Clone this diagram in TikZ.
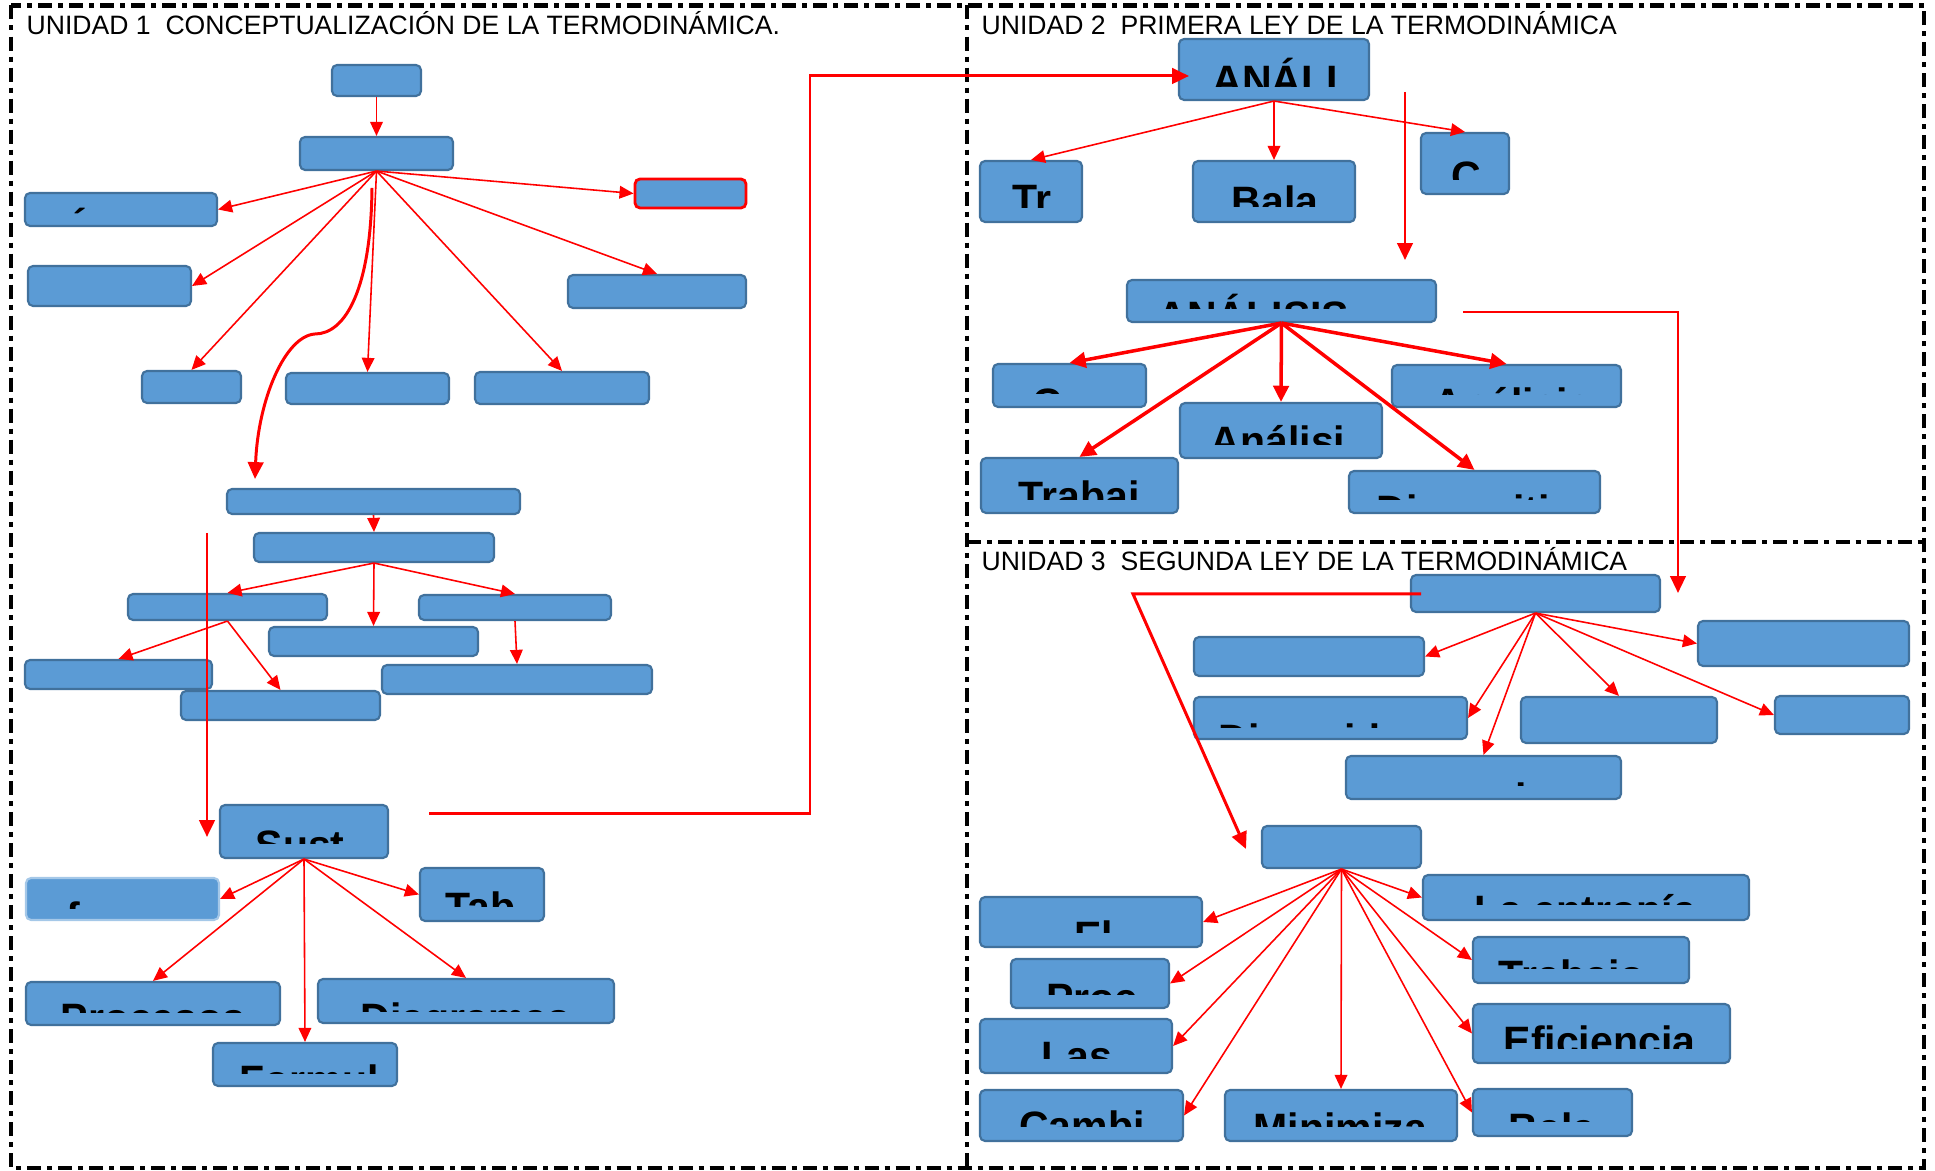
\documentclass[tikz,border=0pt]{standalone}
\usepackage{fontspec}
\setmainfont{Liberation Sans}
\usetikzlibrary{fit}
\usetikzlibrary{arrows.meta}

\definecolor{boxfill}{RGB}{91,155,213}
\definecolor{boxline}{RGB}{65,113,156}

\tikzset{
  box/.style={draw=boxline,fill=boxfill,line width=0.6pt,rounded corners=0.05cm,inner sep=0pt},
  redbox/.style={box,draw=red,line width=0.8pt},
  palebox/.style={box,draw=boxfill!55!white},
  link/.style={draw=red,line width=0.45pt,-{Triangle[length=4pt,width=3.6pt]}},
  boldlink/.style={draw=red,line width=1pt,-{Triangle[length=4.6pt,width=4.4pt]}},
  route/.style={draw=red,line width=0.85pt},
  routeend/.style={-{Triangle[length=4.8pt,width=4.4pt]}},
  frame/.style={line width=1.4pt,dash pattern=on 0.14cm off 0.06cm on 0.05cm off 0.06cm},
  unit/.style={anchor=base west,inner sep=0pt,font=\fontsize{7.56}{9}\selectfont},
  cuttext/.style={anchor=base west,inner sep=0pt,font=\bfseries\fontsize{11.67}{14}\selectfont}
}

\newcommand{\cutlabel}[5]{%
  \begin{scope}
    \clip (#2-20,#3-60) rectangle (#2+300,#4);
    \node[cuttext] (#1) at (#2,#3) {#5};
  \end{scope}}

\begin{document}
\begin{tikzpicture}[x=0.01cm,y=-0.01cm]
\useasboundingbox (0,0) rectangle (1935,1171);

\draw[frame] (11,5.5) rectangle (1924,1168);
\draw[frame] (967,5.5) -- (967,1168);
\draw[frame] (967,542) -- (1924,542);

\node[unit] (head1) at (26,34.5) {UNIDAD 1~ CONCEPTUALIZACIÓN DE LA TERMODINÁMICA.};
\node[unit] (head2) at (981,34.5) {UNIDAD 2~ PRIMERA LEY DE LA TERMODINÁMICA};
\node[unit] (head3) at (981,571) {UNIDAD 3~ SEGUNDA LEY DE LA TERMODINÁMICA};

% unidad 1
\node[box,fit={(332,65)(421,96)}] (u1a) {};
\node[box,fit={(300,137)(453,170)}] (u1b) {};
\node[box,fit={(25,193)(217,226)}] (u1c) {};
\node[redbox,fit={(635,179)(746,208)}] (u1d) {};
\node[box,fit={(28,266)(191,306)}] (u1e) {};
\node[box,fit={(568,275)(746,308)}] (u1f) {};
\node[box,fit={(142,371)(241,403)}] (u1g) {};
\node[box,fit={(286,373)(449,404)}] (u1h) {};
\node[box,fit={(475,372)(649,404)}] (u1i) {};
\node[box,fit={(227,489)(520,514)}] (u1j) {};
\node[box,fit={(254,533)(494,562)}] (u1k) {};
\node[box,fit={(128,594)(327,620)}] (u1l) {};
\node[box,fit={(419,595)(611,620)}] (u1m) {};
\node[box,fit={(269,627)(478,656)}] (u1n) {};
\node[box,fit={(25,660)(212,689)}] (u1o) {};
\node[box,fit={(181,691)(380,720)}] (u1p) {};
\node[box,fit={(382,665)(652,694)}] (u1q) {};
\node[box,fit={(220,805)(388,858)}] (u1s) {};
\node[palebox,fit={(26,878)(219,920)}] (u1r) {};
\node[box,fit={(420,868)(544,921)}] (u1t) {};
\node[box,fit={(26,982)(280,1025)}] (u1u) {};
\node[box,fit={(318,979)(614,1023)}] (u1v) {};
\node[box,fit={(213,1043)(397,1086)}] (u1w) {};

% unidad 2
\node[box,fit={(1179,39)(1369,100)}] (u2a) {};
\node[box,fit={(980,161)(1082,222)}] (u2b) {};
\node[box,fit={(1193,161)(1355,222)}] (u2c) {};
\node[box,fit={(1421,133)(1509,194)}] (u2d) {};
\node[box,fit={(1127,280)(1436,322)}] (u2e) {};
\node[box,fit={(993,364)(1146,407)}] (u2f) {};
\node[box,fit={(1392,365)(1621,407)}] (u2g) {};
\node[box,fit={(1180,403)(1382,458)}] (u2h) {};
\node[box,fit={(981,458)(1178,513)}] (u2i) {};
\node[box,fit={(1349,471)(1600,513)}] (u2j) {};

% unidad 3
\node[box,fit={(1411,575)(1660,612)}] (u3a) {};
\node[box,fit={(1194,637)(1424,676)}] (u3b) {};
\node[box,fit={(1698,621)(1909,666)}] (u3c) {};
\node[box,fit={(1194,697)(1467,739)}] (u3d) {};
\node[box,fit={(1521,697)(1717,743)}] (u3e) {};
\node[box,fit={(1775,696)(1909,734)}] (u3f) {};
\node[box,fit={(1346,756)(1621,799)}] (u3g) {};
\node[box,fit={(1262,826)(1421,868)}] (u3h) {};
\node[box,fit={(1423,875)(1749,920)}] (u3i) {};
\node[box,fit={(980,897)(1202,947)}] (u3j) {};
\node[box,fit={(1473,937)(1689,983)}] (u3k) {};
\node[box,fit={(1011,959)(1169,1008)}] (u3l) {};
\node[box,fit={(1473,1004)(1730,1063)}] (u3m) {};
\node[box,fit={(980,1019)(1172,1073)}] (u3n) {};
\node[box,fit={(980,1090)(1183,1141)}] (u3o) {};
\node[box,fit={(1225,1090)(1457,1141)}] (u3p) {};
\node[box,fit={(1473,1089)(1632,1136)}] (u3q) {};

\draw[link] (u1a.south) -- (u1b.north);
\draw[link] (u1b.south) -- (u1c.east);
\draw[link] (u1b.south) -- (u1d.west);
\draw[link] (u1b.south) -- (u1e.east);
\draw[link] (u1b.south) -- (u1f.north);
\draw[link] (u1b.south) -- (u1g.north);
\draw[link] (u1b.south) -- (u1h.north);
\draw[link] (u1b.south) -- (u1i.north);
\draw[link] (u1j.south) -- (u1k.north);
\draw[link] (u1k.south) -- (u1l.north);
\draw[link] (u1k.south) -- (u1n.north);
\draw[link] (u1k.south) -- (u1m.north);
\draw[link] (u1l.south) -- (u1o.north);
\draw[link] (u1l.south) -- (u1p.north);
\draw[link] (u1m.south) -- (u1q.north);
\draw[link] (u1s.south) -- (u1r.east);
\draw[link] (u1s.south) -- (u1t.west);
\draw[link] (u1s.south) -- (u1u.north);
\draw[link] (u1s.south) -- (u1v.north);
\draw[link] (u1s.south) -- (u1w.north);

\draw[link] (u2a.south) -- (u2b.north);
\draw[link] (u2a.south) -- (u2c.north);
\draw[link] (u2a.south) -- (u2d.north);
\draw[boldlink] (u2e.south) -- (u2f.north);
\draw[boldlink] (u2e.south) -- (u2g.north);
\draw[boldlink] (u2e.south) -- (u2h.north);
\draw[boldlink] (u2e.south) -- (u2i.north);
\draw[boldlink] (u2e.south) -- (u2j.north);

\draw[link] (u3a.south) -- (u3b.east);
\draw[link] (u3a.south) -- (u3c.west);
\draw[link] (u3a.south) -- (u3d.east);
\draw[link] (u3a.south) -- (u3e.north);
\draw[link] (u3a.south) -- (u3f.west);
\draw[link] (u3a.south) -- (u3g.north);
\draw[link] (u3h.south) -- (u3i.west);
\draw[link] (u3h.south) -- (u3j.east);
\draw[link] (u3h.south) -- (u3k.west);
\draw[link] (u3h.south) -- (u3l.east);
\draw[link] (u3h.south) -- (u3m.west);
\draw[link] (u3h.south) -- (u3n.east);
\draw[link] (u3h.south) -- (u3o.east);
\draw[link] (u3h.south) -- (u3p.north);
\draw[link] (u3h.south) -- (u3q.west);

\coordinate (cv1) at (372,188);
\coordinate (cv2) at (255,479);
\coordinate (vd1) at (207,533);
\coordinate (vd2) at (207,837);
\coordinate (sr1) at (429,814);
\coordinate (sr2) at (810,76);
\coordinate (sr3) at (1189,76);
\coordinate (ad1) at (1405,92);
\coordinate (ad2) at (1405,260);
\coordinate (ar1) at (1463,312);
\coordinate (ar2) at (1678,593);
\coordinate (sg1) at (1421,594);
\coordinate (sg2) at (1133,594);
\coordinate (sg3) at (1246,849);

\draw[route,routeend] (cv1) .. controls (371,290) and (345,334) .. (315,334)
                            .. controls (285,336) and (258,400) .. (cv2);
\draw[route,routeend] (vd1) -- (vd2);
\draw[route,routeend] (sr1) -| (sr2) -- (sr3);
\draw[route,routeend,line width=0.7pt] (ad1) -- (ad2);
\draw[route,routeend,line width=0.7pt] (ar1) -| (ar2);
\draw[route,routeend] (sg1) -- (sg2) -- (sg3);

\cutlabel{u1c-t}{63}{245}{214}{Á}
\cutlabel{u1s-t}{255}{859.4}{843.3}{Sust}
\cutlabel{u1r-t}{66}{931.7}{908.3}{f}
\cutlabel{u1t-t}{445}{921.4}{907}{Tab}
\cutlabel{u1u-t}{60}{1033}{1012.3}{Procesos}
\cutlabel{u1v-t}{360}{1032.7}{1011.3}{Diagramas}
\cutlabel{u1w-t}{239}{1094.4}{1073.5}{Formul}

\cutlabel{u2a-t}{1212}{94.4}{87}{ANÁLI}
\cutlabel{u2b-t}{1012}{213.4}{208}{Tr}
\cutlabel{u2c-t}{1231}{216}{206.7}{Bala}
\cutlabel{u2d-t}{1451}{191}{180}{C}
\cutlabel{u2e-t}{1157}{331}{309}{ANÁLISIS}
\cutlabel{u2f-t}{1032}{417.4}{394}{C}
\cutlabel{u2g-t}{1433}{417.7}{394.3}{Análisis}
\cutlabel{u2h-t}{1210}{456}{445}{Análisi}
\cutlabel{u2i-t}{1018}{511}{500}{Trabaj}
\cutlabel{u2j-t}{1376}{524.4}{500}{Dispositivos}

\cutlabel{u3d-t}{1218}{753.4}{727.3}{Diversid}
\cutlabel{u3g-t}{1515}{812.4}{785.5}{i}
\cutlabel{u3i-t}{1474}{924.5}{904.5}{La entropía}
\cutlabel{u3j-t}{1073.6}{951}{933}{El}
\cutlabel{u3k-t}{1498}{989.4}{969}{Trabajo}
\cutlabel{u3l-t}{1045.5}{1012.4}{995}{Proc}
\cutlabel{u3m-t}{1503}{1056}{1048.3}{Eficiencia}
\cutlabel{u3n-t}{1041}{1071}{1059}{Las}
\cutlabel{u3o-t}{1018.5}{1141}{1126.7}{Cambi}
\cutlabel{u3p-t}{1253}{1142.4}{1126.7}{Minimiza}
\cutlabel{u3q-t}{1508}{1142.4}{1121.7}{Bala}

\end{tikzpicture}
\end{document}
